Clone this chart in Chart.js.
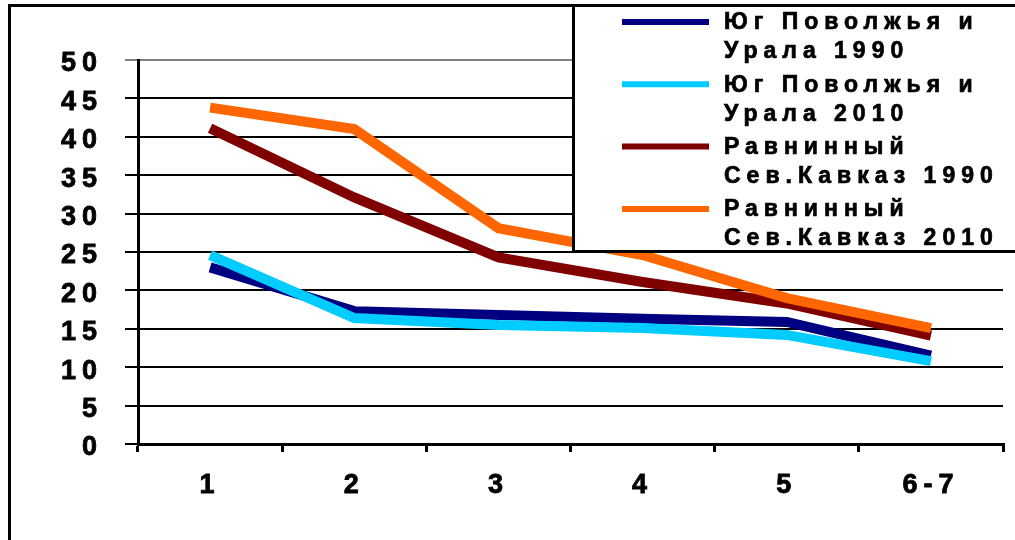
<!DOCTYPE html>
<html>
<head>
<meta charset="utf-8">
<script src="https://cdn.jsdelivr.net/npm/chart.js@4"></script>
<style>
    html, body { margin: 0; padding: 0; background: #fff; }
    #wrap { width: 1015px; height: 540px; position: relative; }
</style>
</head>
<body>
<div id="wrap"><canvas id="chart"></canvas></div>
<script>
// Chart data
const categories = ['1', '2', '3', '4', '5', '6-7'];
const yTicks = [0, 5, 10, 15, 20, 25, 30, 35, 40, 45, 50];

const seriesNames = [
    ['Юг Поволжья и', 'Урала 1990'],
    ['Юг Поволжья и', 'Урала 2010'],
    ['Равнинный', 'Сев.Кавказ 1990'],
    ['Равнинный', 'Сев.Кавказ 2010']
];
const seriesColors = ['#000080', '#00CCFF', '#800000', '#FF6600'];

const south1990 = [23.0, 17.3, 16.8, 16.3, 15.9, 11.5];
const south2010 = [24.6, 16.4, 15.5, 15.1, 14.2, 10.8];
const caucasus1990 = [41.1, 32.1, 24.3, 21.1, 18.3, 14.1];
const caucasus2010 = [43.8, 41.0, 28.1, 24.6, 19.0, 15.1];

const seriesValues = [south1990, south2010, caucasus1990, caucasus2010];

const FONT = '"Liberation Sans", Arial, sans-serif';

// Plugins
const framePlugin = {
    id: 'frame',
    beforeDraw(chart) {
        // spaced-out tick labels
        chart.ctx.letterSpacing = '6px';
    },
    afterDraw(chart) {
        const ctx = chart.ctx;
        ctx.save();
        ctx.letterSpacing = '0px';
        ctx.strokeStyle = '#000';
        ctx.lineWidth = 3;
        ctx.strokeRect(9.5, 5.5, 1030, 560);

        // legend box over the plot
        ctx.fillStyle = '#fff';
        ctx.fillRect(573, 5, 460, 247);
        ctx.strokeRect(573.5, 5.5, 460, 246);

        ctx.font = 'bold 23px ' + FONT;
        ctx.letterSpacing = '6px';
        ctx.textBaseline = 'middle';
        ctx.fillStyle = '#000';
        seriesNames.forEach((lines, i) => {
            const y = 22 + i * 62.3;
            ctx.strokeStyle = seriesColors[i];
            ctx.lineWidth = 6;
            ctx.beginPath();
            ctx.moveTo(622, y);
            ctx.lineTo(709, y);
            ctx.stroke();
            ctx.strokeStyle = '#000';
            ctx.lineWidth = 0.7;
            lines.forEach((t, j) => {
                ctx.fillText(t, 724, y + 1 + j * 29);
                ctx.strokeText(t, 724, y + 1 + j * 29);
            });
        });
        ctx.restore();
    }
};

new Chart(document.getElementById('chart'), {
    type: 'line',
    data: {
        labels: categories,
        datasets: seriesValues.map((vals, i) => ({
            label: seriesNames[i].join(' '),
            data: vals,
            borderColor: seriesColors[i],
            backgroundColor: seriesColors[i],
            borderWidth: 10,
            pointRadius: 0,
            tension: 0,
            borderCapStyle: 'butt',
            order: 3 - i
        }))
    },
    options: {
        responsive: true,
        maintainAspectRatio: false,
        animation: false,
        layout: { padding: { left: 0, top: 60, right: 12, bottom: 0 } },
        plugins: {
            legend: { display: false },
            tooltip: { enabled: false }
        },
        scales: {
            x: {
                offset: true,
                afterFit: (s) => { s.height = 96; },
                border: { color: '#000', width: 3 },
                grid: {
                    offset: true,
                    color: (c) => c.index === categories.length ? '#808080' : 'rgba(0,0,0,0)',
                    tickColor: '#000',
                    lineWidth: 3,
                    tickLength: 8
                },
                ticks: {
                    color: '#000',
                    padding: 17,
                    maxRotation: 0,
                    textStrokeColor: '#000',
                    textStrokeWidth: 0.8,
                    font: { family: FONT, size: 27, weight: 'bold' }
                }
            },
            y: {
                min: 0,
                max: 50,
                afterFit: (s) => { s.width = 138; },
                afterBuildTicks: (s) => { s.ticks = yTicks.map(v => ({ value: v })); },
                border: { color: '#000', width: 3 },
                grid: {
                    color: (c) => c.tick && c.tick.value === 50 ? '#808080' : '#000',
                    lineWidth: 2,
                    tickLength: 13
                },
                ticks: {
                    color: '#000',
                    padding: 22,
                    labelOffset: 4,
                    textStrokeColor: '#000',
                    textStrokeWidth: 0.8,
                    font: { family: FONT, size: 27, weight: 'bold' }
                }
            }
        }
    },
    plugins: [framePlugin]
});
</script>
</body>
</html>
